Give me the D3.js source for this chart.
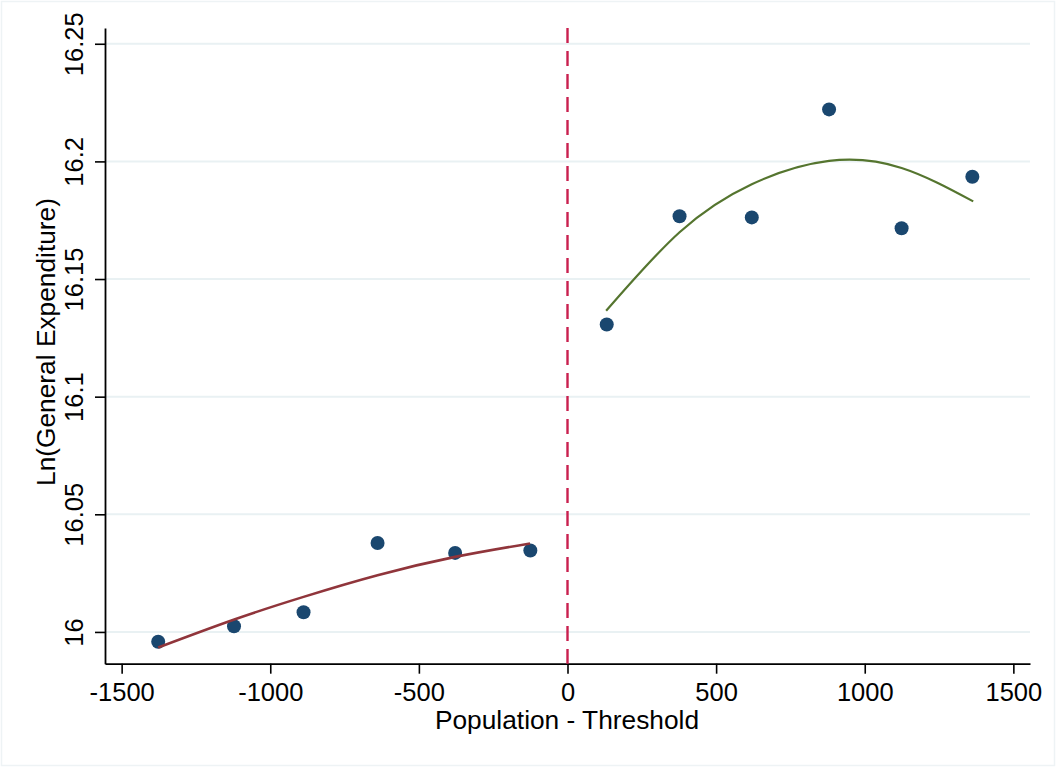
<!DOCTYPE html>
<html>
<head>
<meta charset="utf-8">
<script src="https://cdn.jsdelivr.net/npm/d3@7"></script>
<style>
  body { margin: 0; background: #fff; }
  svg { display: block; font-family: "Liberation Sans", Arial, Helvetica, sans-serif; }
</style>
</head>
<body>
<div class="graph"></div>
<script>
const w = 1056;
const h = 768;

// binned means (population - threshold, ln expenditure)
const leftX = [-1377, -1122, -888, -639, -378, -125];
const leftY = [15.9958, 16.0024, 16.0084, 16.0378, 16.0336, 16.0346];
const rightX = [132, 377, 620, 880, 1124, 1362];
const rightY = [16.1307, 16.1767, 16.1762, 16.2221, 16.1716, 16.1935];

// fitted curves
const leftFitX = [-1377, -1121, -888, -639, -378, -126];
const leftFitY = [15.9934, 16.0053, 16.0149, 16.0241, 16.0319, 16.0376];
const rightFitX = [130, 377, 620, 880, 1124, 1365];
const rightFitY = [16.1365, 16.1699, 16.1903, 16.2002, 16.1972, 16.1830];

const xTicks = [-1500, -1000, -500, 0, 500, 1000, 1500];
const xTickLabels = ["-1500", "-1000", "-500", "0", "500", "1000", "1500"];
const yTicks = [16, 16.05, 16.1, 16.15, 16.2, 16.25];
const yTickLabels = ["16", "16.05", "16.1", "16.15", "16.2", "16.25"];

const canvas = d3.select('.graph')
  .append("svg")
  .attr("width", w)
  .attr("height", h);

// faint outer frame
canvas.append("rect")
  .attr("x", 1.5).attr("y", 1.5)
  .attr("width", w - 3).attr("height", h - 4)
  .attr("fill", "#fff")
  .attr("stroke", "#eef3f5")
  .attr("stroke-width", 1.5);

const xScale = d3.scaleLinear()
  .domain([-1556, 1556])
  .range([105, 1030]);

const yScale = d3.scaleLinear()
  .domain([15.9865, 16.2567])
  .range([663.7, 28]);

// grid
canvas.append("g")
  .selectAll("line")
  .data(yTicks)
  .enter().append("line")
  .attr("x1", xScale.range()[0])
  .attr("x2", xScale.range()[1])
  .attr("y1", d => yScale(d))
  .attr("y2", d => yScale(d))
  .attr("stroke", "#e9f1f3")
  .attr("stroke-width", 2);

// axes
const xAxis = canvas.append("g")
  .attr("transform", `translate(0, ${yScale.range()[0]})`)
  .call(d3.axisBottom(xScale).tickValues(xTicks).tickSize(10).tickSizeOuter(0)
    .tickFormat((d, i) => xTickLabels[i]));

xAxis.selectAll("text")
  .attr("y", 37)
  .attr("dy", null)
  .style("font-size", "25.5px")
  .attr("fill", "#000");

const yAxis = canvas.append("g")
  .attr("transform", `translate(${xScale.range()[0]}, 0)`)
  .call(d3.axisLeft(yScale).tickValues(yTicks).tickSize(10).tickSizeOuter(0)
    .tickFormat((d, i) => yTickLabels[i]));

yAxis.selectAll("text")
  .attr("x", 0)
  .attr("y", -22)
  .attr("dy", null)
  .attr("transform", "rotate(-90)")
  .style("text-anchor", "middle")
  .style("font-size", "25.5px")
  .attr("fill", "#000");

canvas.selectAll(".domain").attr("stroke", "#000").attr("stroke-width", 1.8);
canvas.selectAll(".tick line").attr("stroke", "#000").attr("stroke-width", 1.6);

// axis titles
canvas.append("text")
  .attr("x", 567)
  .attr("y", 729)
  .style("text-anchor", "middle")
  .style("font-size", "26.3px")
  .text("Population - Threshold");

canvas.append("text")
  .attr("transform", "rotate(-90)")
  .attr("x", -342)
  .attr("y", 55)
  .style("text-anchor", "middle")
  .style("font-size", "26.3px")
  .text("Ln(General Expenditure)");

// scatter
const pts = leftX.map((d, i) => [d, leftY[i]])
  .concat(rightX.map((d, i) => [d, rightY[i]]));

canvas.append("g")
  .selectAll("circle")
  .data(pts)
  .enter().append("circle")
  .attr("cx", d => xScale(d[0]))
  .attr("cy", d => yScale(d[1]))
  .attr("r", 7)
  .attr("fill", "#1a476f");

// fit lines
const line = d3.line()
  .x(d => xScale(d[0]))
  .y(d => yScale(d[1]))
  .curve(d3.curveNatural);

canvas.append("path")
  .datum(leftFitX.map((d, i) => [d, leftFitY[i]]))
  .attr("d", line)
  .attr("fill", "none")
  .attr("stroke", "#90353b")
  .attr("stroke-width", 2.6);

canvas.append("path")
  .datum(rightFitX.map((d, i) => [d, rightFitY[i]]))
  .attr("d", line)
  .attr("fill", "none")
  .attr("stroke", "#55752f")
  .attr("stroke-width", 2.2);

// threshold line
canvas.append("line")
  .attr("x1", xScale(0))
  .attr("x2", xScale(0))
  .attr("y1", yScale.range()[1])
  .attr("y2", yScale.range()[0])
  .attr("stroke", "#c9204f")
  .attr("stroke-width", 2.4)
  .attr("stroke-dasharray", "15,8");
</script>
</body>
</html>
